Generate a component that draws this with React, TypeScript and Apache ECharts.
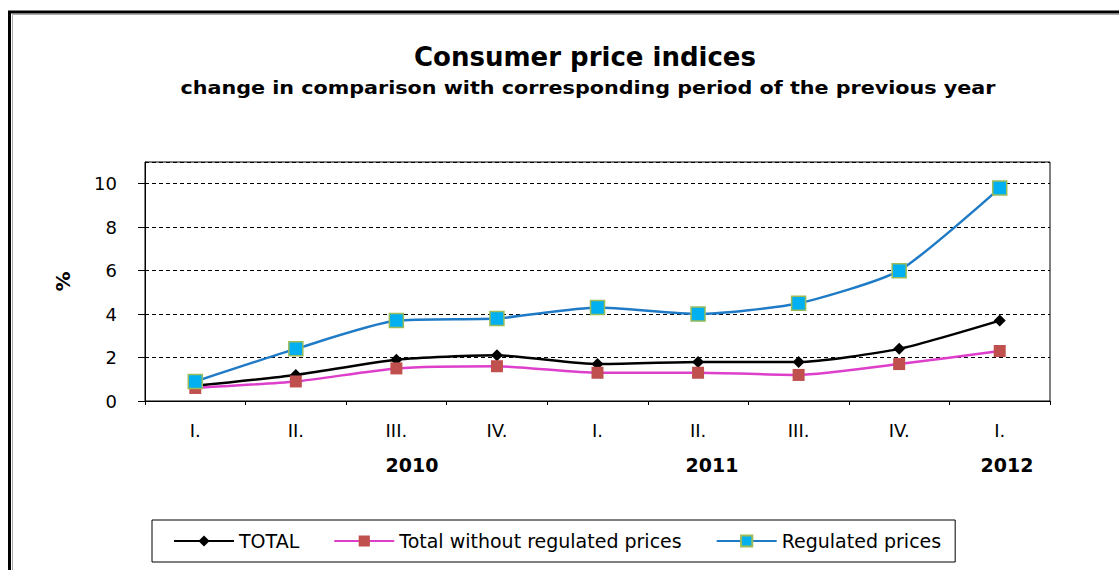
import React, { useEffect, useRef } from 'react';
import * as echarts from 'echarts';

const titleText = 'Consumer price indices';
const subtitleText = 'change in comparison with corresponding period of the previous year';
const categories = ['I.', 'II.', 'III.', 'IV.', 'I.', 'II.', 'III.', 'IV.', 'I.'];
const yearLabels = ['2010', '2011', '2012'];
const seriesNames = ['TOTAL', 'Total without regulated prices', 'Regulated prices'];
const totalValues = [0.7, 1.2, 1.9, 2.1, 1.7, 1.8, 1.8, 2.4, 3.7];
const withoutRegulatedValues = [0.6, 0.9, 1.5, 1.6, 1.3, 1.3, 1.2, 1.7, 2.3];
const regulatedValues = [0.9, 2.4, 3.7, 3.8, 4.3, 4.0, 4.5, 6.0, 9.8];
const yAxisName = '%';

const FONT = '"DejaVu Sans", Verdana, sans-serif';

export default function App() {
  const ref = useRef<HTMLDivElement>(null);

  useEffect(() => {
    if (!ref.current) return;
    const chart = echarts.init(ref.current, undefined, { renderer: 'svg' });
    const yearX = [412, 712, 1007];
    chart.setOption({
      animation: false,
      backgroundColor: '#fff',
      textStyle: { fontFamily: FONT },
      graphic: [
        {
          type: 'rect',
          shape: { x: 9.5, y: 12, width: 1200, height: 700 },
          style: { fill: 'none', stroke: '#000', lineWidth: 3 },
          silent: true,
        },
        {
          type: 'rect',
          shape: { x: 12.5, y: 14.5, width: 1200, height: 700 },
          style: { fill: 'none', stroke: '#aaa', lineWidth: 1 },
          silent: true,
        },
        {
          type: 'text',
          x: 585,
          y: 57,
          style: {
            text: titleText,
            font: `bold 26px ${FONT}`,
            fill: '#000',
            textAlign: 'center',
            textVerticalAlign: 'middle',
          },
        },
        {
          type: 'text',
          x: 588,
          y: 88,
          scaleX: 1.15,
          style: {
            text: subtitleText,
            font: `bold 18px ${FONT}`,
            fill: '#000',
            textAlign: 'center',
            textVerticalAlign: 'middle',
          },
        },
        ...yearLabels.map((t, i) => ({
          type: 'text',
          x: yearX[i],
          y: 465,
          style: {
            text: t,
            font: `bold 19px ${FONT}`,
            fill: '#000',
            textAlign: 'center',
            textVerticalAlign: 'middle',
          },
        })),
      ],
      grid: {
        left: 145,
        right: 69,
        top: 162,
        bottom: 169,
        show: true,
        borderColor: '#000',
        borderWidth: 1,
        backgroundColor: 'transparent',
      },
      legend: {
        left: 152,
        top: 520,
        orient: 'horizontal',
        padding: [10, 14, 10, 21],
        itemWidth: 60,
        itemHeight: 14,
        itemGap: 34,
        borderColor: '#000',
        borderWidth: 1,
        textStyle: { fontFamily: FONT, fontSize: 19, color: '#000', lineHeight: 22 },
        data: seriesNames,
      },
      xAxis: {
        type: 'category',
        data: categories,
        boundaryGap: true,
        axisLine: { lineStyle: { color: '#000', width: 1 } },
        axisTick: { show: true, interval: 0, length: 4, lineStyle: { color: '#000' } },
        axisLabel: { interval: 0, fontSize: 18, color: '#000', margin: 20, fontFamily: FONT },
        splitLine: { show: false },
      },
      yAxis: {
        type: 'value',
        min: 0,
        max: 11,
        interval: 2,
        name: yAxisName,
        nameLocation: 'middle',
        nameGap: 72,
        nameRotate: 90,
        nameTextStyle: { fontSize: 20, fontWeight: 'bold', color: '#000', fontFamily: FONT },
        axisLine: { show: true, lineStyle: { color: '#000', width: 1 } },
        axisTick: { show: true, length: 7, lineStyle: { color: '#000' } },
        axisLabel: { fontSize: 18, color: '#000', margin: 28, showMaxLabel: false, fontFamily: FONT },
        splitLine: { show: true, lineStyle: { color: '#000', width: 1, type: [4, 3] } },
      },
      series: [
        {
          name: seriesNames[0],
          type: 'line',
          data: totalValues,
          smooth: 0.2,
          symbol: 'diamond',
          symbolSize: 12,
          lineStyle: { color: '#000', width: 2.5 },
          itemStyle: { color: '#000' },
        },
        {
          name: seriesNames[1],
          type: 'line',
          data: withoutRegulatedValues,
          smooth: 0.2,
          symbol: 'rect',
          symbolSize: 12,
          lineStyle: { color: '#DD3FCB', width: 2.5 },
          itemStyle: { color: '#C0504D' },
        },
        {
          name: seriesNames[2],
          type: 'line',
          data: regulatedValues,
          smooth: 0.2,
          symbol: 'rect',
          symbolSize: 14,
          lineStyle: { color: '#1F7BC6', width: 2.5 },
          itemStyle: { color: '#00B0F0', borderColor: '#9BBB59', borderWidth: 1.5 },
        },
      ],
    });
    return () => chart.dispose();
  }, []);

  return (
    <div
      ref={ref}
      style={{ position: 'fixed', left: 0, top: 0, width: 1119, height: 570 }}
    />
  );
}
